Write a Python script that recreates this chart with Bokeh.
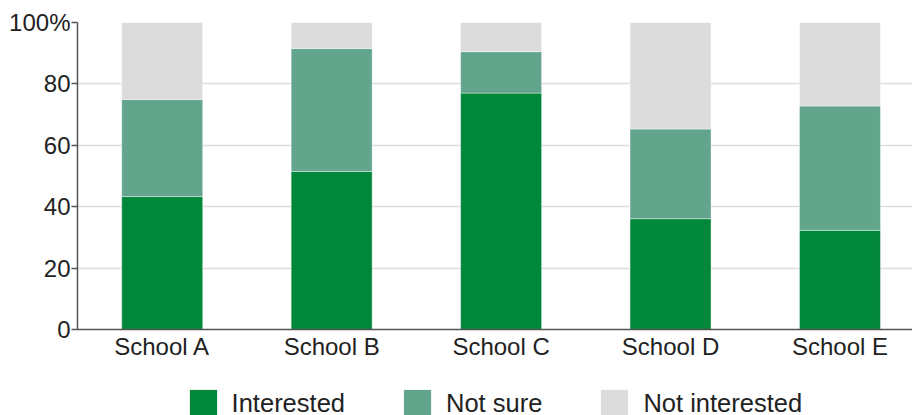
from bokeh.plotting import figure
from bokeh.layouts import column
from bokeh.models import Range1d, FixedTicker, Legend, LegendItem, ColumnDataSource
from bokeh.embed import file_html
from bokeh.resources import INLINE

# ---- data ----
schools = ["School A", "School B", "School C", "School D", "School E"]
interested = [43.3, 51.5, 77.0, 36.1, 32.3]
not_sure = [31.6, 40.0, 13.5, 29.2, 40.5]
not_interested = [25.1, 8.5, 9.5, 34.7, 27.2]
series = ["Interested", "Not sure", "Not interested"]
colors = ["#00873a", "#63a48d", "#dcdcdc"]
y_ticks = [0, 20, 40, 60, 80, 100]
y_tick_labels = ["0", "20", "40", "60", "80", "100%"]

xs = list(range(len(schools)))
source = ColumnDataSource(dict(x=xs, Interested=interested,
                               **{"Not sure": not_sure, "Not interested": not_interested}))

FONT = "Liberation Sans"
TXT = "#222222"
AXC = "#555555"
W = 912
H_CHART = 370
H_LEG = 45

p = figure(width=W, height=H_CHART, output_backend="svg", toolbar_location=None,
           x_range=Range1d(-0.5, 4.428), y_range=Range1d(0, 100),
           min_border_left=77, min_border_right=0, min_border_top=22,
           min_border_bottom=H_CHART - 329)
p.outline_line_color = None

renderers = p.vbar_stack(series, x="x", width=0.478, source=source,
                         color=colors, line_color="white", line_alpha=0.4,
                         line_width=1)

# grid
p.xgrid.grid_line_color = None
p.ygrid.ticker = FixedTicker(ticks=y_ticks)
p.ygrid.grid_line_color = "#dddddd"
p.ygrid.grid_line_width = 1.5
p.ygrid.level = "underlay"

# y axis
ya = p.yaxis[0]
ya.ticker = FixedTicker(ticks=y_ticks)
ya.major_label_overrides = {t: l for t, l in zip(y_ticks, y_tick_labels)}
ya.major_tick_out = 6
ya.major_tick_in = 0
ya.minor_tick_line_color = None
ya.axis_line_color = AXC
ya.axis_line_width = 1.5
ya.major_tick_line_color = AXC
ya.major_tick_line_width = 1.5
ya.major_label_standoff = 1
ya.major_label_text_font = FONT
ya.major_label_text_font_size = "24px"
ya.major_label_text_color = TXT

# x axis
xa = p.xaxis[0]
xa.ticker = FixedTicker(ticks=xs)
xa.major_label_overrides = {x: s for x, s in zip(xs, schools)}
xa.major_tick_line_color = None
xa.minor_tick_line_color = None
xa.major_tick_out = 0
xa.major_tick_in = 0
xa.axis_line_color = AXC
xa.axis_line_width = 1.5
xa.major_label_standoff = 3
xa.major_label_text_font = FONT
xa.major_label_text_font_size = "24px"
xa.major_label_text_color = TXT

# ---- legend strip (separate canvas below the chart) ----
pl = figure(width=W, height=H_LEG, output_backend="svg", toolbar_location=None,
            x_range=Range1d(-0.5, 4.428), y_range=Range1d(0, 100),
            x_axis_location=None, y_axis_location=None,
            min_border_left=0, min_border_right=0, min_border_top=0,
            min_border_bottom=0)
pl.outline_line_color = None
pl.xgrid.visible = False
pl.ygrid.visible = False
leg_renderers = pl.vbar_stack(series, x="x", width=0.478, source=source,
                              color=colors, line_color=None)
for r in leg_renderers:
    r.visible = False

legend = Legend(items=[LegendItem(label=s, renderers=[r])
                       for s, r in zip(series, leg_renderers)],
                orientation="horizontal", location=(108.6, -5.0),
                glyph_width=34, glyph_height=34, label_standoff=12, spacing=55,
                padding=0, margin=0, border_line_color=None,
                background_fill_alpha=0, inactive_fill_alpha=0,
                label_text_font=FONT, label_text_font_size="25.5px",
                label_text_color=TXT)
pl.add_layout(legend, "center")

layout = column(p, pl, spacing=0)
open("out.html", "w").write(file_html(layout, INLINE))
